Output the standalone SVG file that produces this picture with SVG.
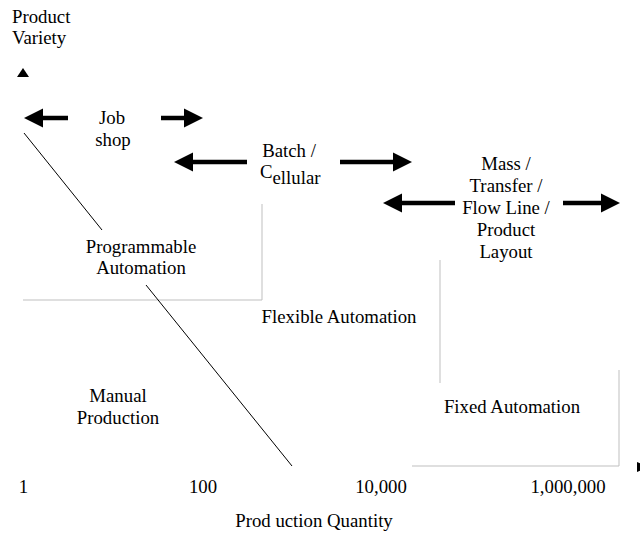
<svg xmlns="http://www.w3.org/2000/svg" width="640" height="533" viewBox="0 0 640 533">
<style>
text{font-family:"Liberation Serif","Times New Roman",serif;font-size:18.8px;fill:#000}
.m{text-anchor:middle}
.g{stroke:#bfbfbf;stroke-width:1;fill:none}
.d{stroke:#000;stroke-width:1;fill:none}
.sh{stroke:#000;stroke-width:4.5;fill:none}
.hd{fill:#000}
</style>
<rect width="640" height="533" fill="#fff"/>
<g id="axes">
<text x="12" y="23">Product</text>
<text x="12" y="44">Variety</text>
<polygon class="hd" points="23,68 17,77 29,77"/>
<polygon class="hd" points="637,462 650,467 637,472"/>
<text class="m" x="23.5" y="493">1</text>
<text class="m" x="203" y="493">100</text>
<text class="m" x="381" y="493">10,000</text>
<text class="m" x="568" y="493">1,000,000</text>
<text class="m" x="314" y="527">Prod uction Quantity</text>
</g>
<g id="regions">
<line class="g" x1="23" y1="300" x2="262" y2="300"/>
<line class="g" x1="262" y1="204" x2="262" y2="300"/>
<line class="g" x1="440" y1="260" x2="440" y2="383"/>
<line class="g" x1="619" y1="370" x2="619" y2="466"/>
<line class="g" x1="412" y1="466" x2="619" y2="466"/>
<line class="d" x1="24" y1="133" x2="102" y2="230"/>
<line class="d" x1="146" y1="285" x2="292" y2="466"/>
</g>
<g id="jobshop">
<text class="m" x="112" y="124">Job</text>
<text class="m" x="113" y="146">shop</text>
</g>
<g id="batch">
<text class="m" x="289" y="157">Batch /</text>
<text x="260" y="178">C<tspan dy="6">ellular</tspan></text>
</g>
<g id="mass">
<text class="m" x="506" y="170">Mass /</text>
<text class="m" x="506" y="192">Transfer /</text>
<text class="m" x="506" y="214">Flow Line /</text>
<text class="m" x="506" y="236">Product</text>
<text class="m" x="506" y="258">Layout</text>
</g>
<g id="programmable"><text class="m" x="141" y="253">Programmable</text><text class="m" x="141" y="274">Automation</text></g>
<g id="flexible"><text class="m" x="339" y="323">Flexible Automation</text></g>
<g id="manual"><text class="m" x="118" y="402">Manual</text><text class="m" x="118" y="424">Production</text></g>
<g id="fixed"><text class="m" x="512" y="413">Fixed Automation</text></g>
<g id="connectors">
<line class="sh" x1="68" y1="118" x2="40" y2="118"/><polygon class="hd" points="24,118 43,108.5 43,127.5"/>
<line class="sh" x1="161" y1="118" x2="186" y2="118"/><polygon class="hd" points="203,118 184,108.5 184,127.5"/>
<line class="sh" x1="247" y1="162" x2="190" y2="162"/><polygon class="hd" points="174,162 193,152.5 193,171.5"/>
<line class="sh" x1="340" y1="162" x2="396" y2="162"/><polygon class="hd" points="412,162 393,152.5 393,171.5"/>
<line class="sh" x1="455" y1="203" x2="400" y2="203"/><polygon class="hd" points="383,203 402,193.5 402,212.5"/>
<line class="sh" x1="563" y1="203" x2="604" y2="203"/><polygon class="hd" points="620,203 601,193.5 601,212.5"/>
</g>
</svg>
